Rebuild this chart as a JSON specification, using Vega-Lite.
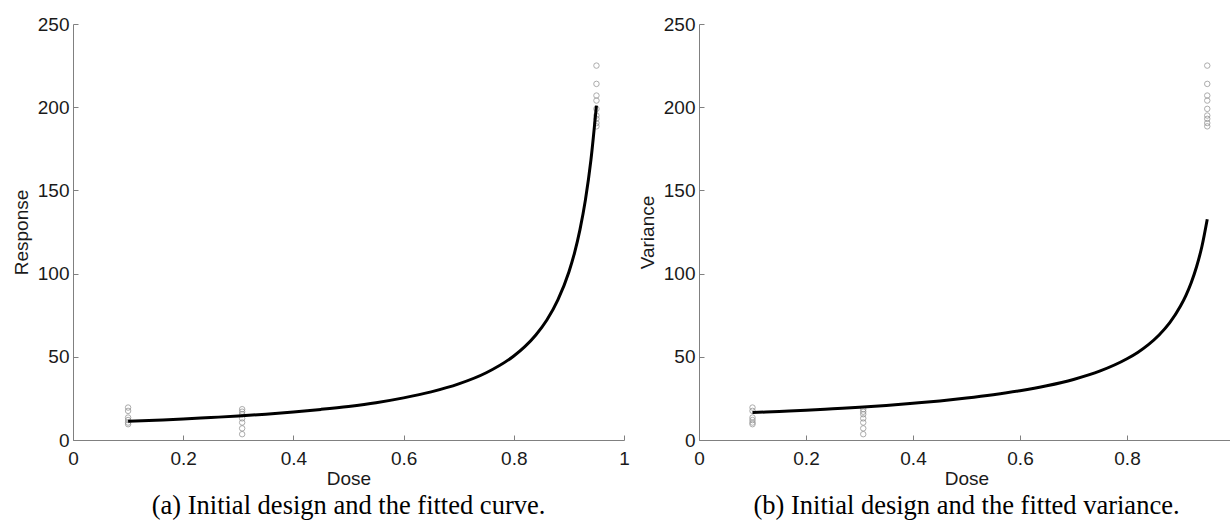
{
  "$schema": "https://vega.github.io/schema/vega-lite/v6.json",
  "background": "white",
  "padding": {"left": 12, "top": 15, "right": 0, "bottom": 0},
  "config": {
    "view": {"stroke": null},
    "font": "Liberation Sans",
    "axis": {
      "grid": false,
      "domainColor": "#808080",
      "tickColor": "#808080",
      "tickSize": -5,
      "labelPadding": 9,
      "labelColor": "#1a1a1a",
      "labelFontSize": 19,
      "labelFont": "Liberation Sans",
      "titleFont": "Liberation Sans",
      "titleFontSize": 19,
      "titleFontWeight": "normal",
      "titleColor": "#1a1a1a",
      "labelFlush": false,
      "labelOverlap": false
    },
    "axisX": {"labelPadding": 14, "titlePadding": 1},
    "axisY": {"titlePadding": 6},
    "title": {"font": "Liberation Serif", "fontSize": 26.5, "fontWeight": "normal", "color": "#000000"}
  },
  "datasets": {
    "pts": [
      {"dose": 0.1, "value": 19.5}, {"dose": 0.1, "value": 17.5}, {"dose": 0.1, "value": 13.5},
      {"dose": 0.1, "value": 12}, {"dose": 0.1, "value": 10.5}, {"dose": 0.1, "value": 9.5},
      {"dose": 0.307, "value": 18.5}, {"dose": 0.307, "value": 17}, {"dose": 0.307, "value": 15.5},
      {"dose": 0.307, "value": 13}, {"dose": 0.307, "value": 10.5}, {"dose": 0.307, "value": 7},
      {"dose": 0.307, "value": 3.5},
      {"dose": 0.95, "value": 225}, {"dose": 0.95, "value": 214}, {"dose": 0.95, "value": 207},
      {"dose": 0.95, "value": 204}, {"dose": 0.95, "value": 199}, {"dose": 0.95, "value": 195},
      {"dose": 0.95, "value": 193}, {"dose": 0.95, "value": 190.5}, {"dose": 0.95, "value": 188.5}
    ],
    "resp": [
      {"dose": 0.1, "y": 11.2}, {"dose": 0.15, "y": 11.9}, {"dose": 0.2, "y": 12.6},
      {"dose": 0.25, "y": 13.5}, {"dose": 0.3, "y": 14.4}, {"dose": 0.35, "y": 15.5},
      {"dose": 0.4, "y": 16.8}, {"dose": 0.45, "y": 18.4}, {"dose": 0.5, "y": 20.2},
      {"dose": 0.55, "y": 22.4}, {"dose": 0.6, "y": 25.3}, {"dose": 0.65, "y": 28.9},
      {"dose": 0.7, "y": 33.7}, {"dose": 0.75, "y": 40.4}, {"dose": 0.8, "y": 50.5},
      {"dose": 0.82, "y": 56.1}, {"dose": 0.84, "y": 63.1}, {"dose": 0.86, "y": 72.1},
      {"dose": 0.88, "y": 84.2}, {"dose": 0.9, "y": 101}, {"dose": 0.91, "y": 112.2},
      {"dose": 0.92, "y": 126.3}, {"dose": 0.93, "y": 144.3}, {"dose": 0.94, "y": 168.3},
      {"dose": 0.95, "y": 201}
    ],
    "vari": [
      {"dose": 0.1, "y": 16.5}, {"dose": 0.15, "y": 17.2}, {"dose": 0.2, "y": 17.9},
      {"dose": 0.25, "y": 18.8}, {"dose": 0.3, "y": 19.7}, {"dose": 0.35, "y": 20.8},
      {"dose": 0.4, "y": 22.1}, {"dose": 0.45, "y": 23.5}, {"dose": 0.5, "y": 25.2},
      {"dose": 0.55, "y": 27.2}, {"dose": 0.6, "y": 29.6}, {"dose": 0.65, "y": 32.6},
      {"dose": 0.7, "y": 36.4}, {"dose": 0.75, "y": 41.5}, {"dose": 0.8, "y": 48.8},
      {"dose": 0.82, "y": 52.6}, {"dose": 0.84, "y": 57.3}, {"dose": 0.86, "y": 63.1},
      {"dose": 0.88, "y": 70.5}, {"dose": 0.9, "y": 80.5}, {"dose": 0.91, "y": 86.8},
      {"dose": 0.92, "y": 94.5}, {"dose": 0.93, "y": 104.1}, {"dose": 0.94, "y": 116.3},
      {"dose": 0.95, "y": 132.7}
    ]
  },
  "spacing": 8,
  "hconcat": [
    {
      "width": 551,
      "height": 416,
      "title": {"text": "(a) Initial design and the fitted curve.", "orient": "bottom", "offset": 5},
      "layer": [
        {
          "data": {"name": "pts"},
          "mark": {"type": "point", "shape": "circle", "filled": false, "color": "#8a8a8a", "size": 30, "strokeWidth": 1},
          "encoding": {
            "x": {"field": "dose", "type": "quantitative", "scale": {"domain": [0, 1], "nice": false},
                  "axis": {"title": "Dose", "values": [0, 0.2, 0.4, 0.6, 0.8, 1], "labelExpr": "'' + datum.value"}},
            "y": {"field": "value", "type": "quantitative", "scale": {"domain": [0, 250], "nice": false},
                  "axis": {"title": "Response", "values": [0, 50, 100, 150, 200, 250], "labelExpr": "'' + datum.value"}}
          }
        },
        {
          "data": {"name": "resp"},
          "mark": {"type": "line", "color": "#000000", "strokeWidth": 3, "interpolate": "monotone"},
          "encoding": {
            "x": {"field": "dose", "type": "quantitative"},
            "y": {"field": "y", "type": "quantitative"}
          }
        }
      ]
    },
    {
      "width": 535,
      "height": 416,
      "title": {"text": "(b) Initial design and the fitted variance.", "orient": "bottom", "offset": 5},
      "layer": [
        {
          "data": {"name": "pts"},
          "mark": {"type": "point", "shape": "circle", "filled": false, "color": "#8a8a8a", "size": 30, "strokeWidth": 1},
          "encoding": {
            "x": {"field": "dose", "type": "quantitative", "scale": {"domain": [0, 1], "nice": false},
                  "axis": {"title": "Dose", "values": [0, 0.2, 0.4, 0.6, 0.8, 1], "labelExpr": "'' + datum.value"}},
            "y": {"field": "value", "type": "quantitative", "scale": {"domain": [0, 250], "nice": false},
                  "axis": {"title": "Variance", "values": [0, 50, 100, 150, 200, 250], "labelExpr": "'' + datum.value"}}
          }
        },
        {
          "data": {"name": "vari"},
          "mark": {"type": "line", "color": "#000000", "strokeWidth": 3, "interpolate": "monotone"},
          "encoding": {
            "x": {"field": "dose", "type": "quantitative"},
            "y": {"field": "y", "type": "quantitative"}
          }
        }
      ]
    }
  ]
}
